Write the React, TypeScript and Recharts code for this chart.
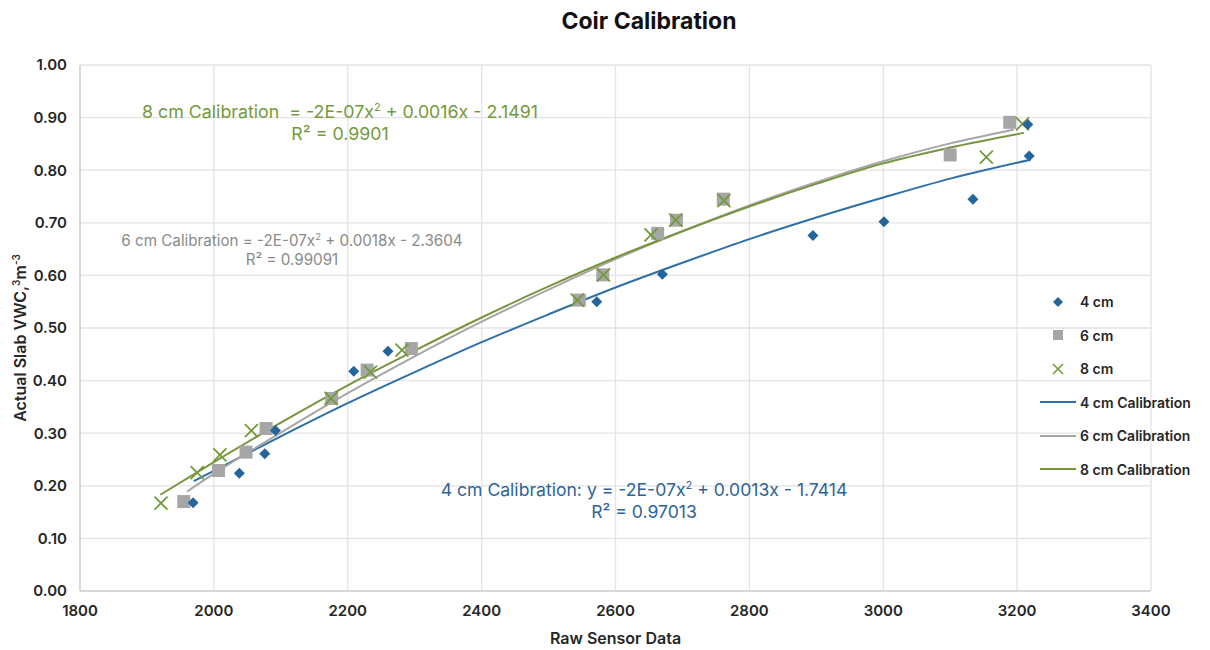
import React from "react";
import {
  ComposedChart, Scatter, Line, XAxis, YAxis, CartesianGrid,
} from "recharts";

// measured points (raw sensor reading vs actual slab VWC)
const raw4 = [1969, 2038, 2076, 2092, 2209, 2260, 2572, 2670, 2895, 3001, 3134, 3216, 3218];
const vwc4 = [0.168, 0.224, 0.261, 0.305, 0.418, 0.456, 0.55, 0.602, 0.676, 0.702, 0.745, 0.887, 0.827];

const raw6 = [1955, 2007, 2048, 2078, 2176, 2229, 2295, 2546, 2581, 2663, 2691, 2761, 3100, 3189];
const vwc6 = [0.17, 0.229, 0.264, 0.309, 0.366, 0.42, 0.461, 0.553, 0.601, 0.68, 0.705, 0.745, 0.829, 0.891];

const raw8 = [1921, 1975, 2009, 2056, 2175, 2234, 2281, 2543, 2582, 2653, 2690, 2762, 3154, 3208];
const vwc8 = [0.167, 0.225, 0.259, 0.305, 0.366, 0.416, 0.458, 0.553, 0.601, 0.677, 0.705, 0.742, 0.825, 0.888];

// calibration curves, read along the trendlines
const fitX4 = [1970, 2100, 2200, 2300, 2400, 2500, 2600, 2700, 2800, 2900, 3000, 3100, 3220];
const fitY4 = [0.209, 0.294, 0.357, 0.416, 0.473, 0.526, 0.577, 0.624, 0.669, 0.71, 0.748, 0.784, 0.82];

const fitX6 = [1960, 2000, 2100, 2200, 2300, 2400, 2500, 2600, 2700, 2800, 2900, 3000, 3100, 3195];
const fitY6 = [0.189, 0.223, 0.301, 0.376, 0.446, 0.512, 0.573, 0.631, 0.684, 0.733, 0.777, 0.817, 0.851, 0.877];

const fitX8 = [1920, 2000, 2100, 2200, 2300, 2400, 2500, 2600, 2700, 2800, 2900, 3000, 3100, 3210];
const fitY8 = [0.183, 0.245, 0.32, 0.391, 0.457, 0.52, 0.579, 0.634, 0.684, 0.731, 0.774, 0.813, 0.843, 0.871];

const xTicks = [1800, 2000, 2200, 2400, 2600, 2800, 3000, 3200, 3400];
const yTicks = [0, 0.1, 0.2, 0.3, 0.4, 0.5, 0.6, 0.7, 0.8, 0.9, 1.0];

const BLUE = "#24659c";
const GRAY = "#a6a6a6";
const GREEN = "#739a3a";
const FONT = "Inter, 'Noto Sans', sans-serif";

const zip = (xs: number[], ys: number[]) => xs.map((x, i) => ({ x, y: ys[i] }));

const pts4 = zip(raw4, vwc4);
const pts6 = zip(raw6, vwc6);
const pts8 = zip(raw8, vwc8);
const fit4 = zip(fitX4, fitY4);
const fit6 = zip(fitX6, fitY6);
const fit8 = zip(fitX8, fitY8);

const Diamond = (p: any) => {
  const { cx, cy } = p;
  const r = 5.5;
  return <path d={`M${cx},${cy - r}L${cx + r},${cy}L${cx},${cy + r}L${cx - r},${cy}Z`} fill={BLUE} />;
};
const Square = (p: any) => {
  const { cx, cy } = p;
  return <rect x={cx - 6.5} y={cy - 6.5} width={13} height={13} fill={GRAY} />;
};
const Cross = (p: any) => {
  const { cx, cy } = p;
  const r = 6.5;
  return (
    <path d={`M${cx - r},${cy - r}L${cx + r},${cy + r}M${cx - r},${cy + r}L${cx + r},${cy - r}`}
      stroke={GREEN} strokeWidth={1.8} fill="none" />
  );
};

const legendItems = [
  { label: "4 cm", kind: "diamond", color: BLUE },
  { label: "6 cm", kind: "square", color: GRAY },
  { label: "8 cm", kind: "cross", color: GREEN },
  { label: "4 cm Calibration", kind: "line", color: "#2e6fa8" },
  { label: "6 cm Calibration", kind: "line", color: GRAY },
  { label: "8 cm Calibration", kind: "line", color: "#77953f" },
];

const LegendBox = () => (
  <div style={{ position: "absolute", left: 1038, top: 285, fontFamily: FONT, fontSize: 14, fontWeight: 600, color: "#262626" }}>
    {legendItems.map((it) => (
      <div key={it.label} style={{ display: "flex", alignItems: "center", height: 33.5 }}>
        <svg width={40} height={14} style={{ marginRight: 2 }}>
          {it.kind === "diamond" && <path d="M20,2L25,7L20,12L15,7Z" fill={it.color} />}
          {it.kind === "square" && <rect x={15} y={2} width={10} height={10} fill={it.color} />}
          {it.kind === "cross" && <path d="M15,2L25,12M15,12L25,2" stroke={it.color} strokeWidth={1.6} />}
          {it.kind === "line" && <line x1={2} y1={7} x2={38} y2={7} stroke={it.color} strokeWidth={2} />}
        </svg>
        <span>{it.label}</span>
      </div>
    ))}
  </div>
);

const note = (color: string, size: number): React.CSSProperties => ({
  position: "absolute", fontFamily: FONT, fontSize: size, color, whiteSpace: "nowrap",
  textAlign: "center", lineHeight: 1.25, transform: "translateX(-50%)",
});

export default function App() {
  return (
    <div style={{ position: "absolute", left: 0, top: 0, width: 1210, height: 650, background: "#fff" }}>
      <ComposedChart width={1210} height={650} margin={{ top: 65, right: 59, bottom: 29, left: 30 }}>
        <CartesianGrid stroke="#e3e3e3" strokeWidth={1.3} />
        <XAxis dataKey="x" type="number" domain={[1800, 3400]} ticks={xTicks} allowDataOverflow
          stroke="#c4c4c4" tickLine={false} tickSize={5} tickMargin={9} height={30}
          tick={{ fill: "#262626", fontSize: 15, fontWeight: 600, fontFamily: FONT }} />
        <YAxis type="number" domain={[0, 1]} ticks={yTicks} width={50} allowDataOverflow
          stroke="#c4c4c4" tickLine={false} tickSize={5} tickMargin={8}
          tickFormatter={(v: number) => v.toFixed(2)}
          tick={{ fill: "#262626", fontSize: 15, fontWeight: 600, fontFamily: FONT }} />
        <Line data={fit4} dataKey="y" type="monotone" stroke="#2e6fa8" strokeWidth={2} dot={false} isAnimationActive={false} />
        <Line data={fit6} dataKey="y" type="monotone" stroke={GRAY} strokeWidth={2} dot={false} isAnimationActive={false} />
        <Line data={fit8} dataKey="y" type="monotone" stroke="#77953f" strokeWidth={2} dot={false} isAnimationActive={false} />
        <Scatter data={pts6} dataKey="y" shape={Square} isAnimationActive={false} />
        <Scatter data={pts8} dataKey="y" shape={Cross} isAnimationActive={false} />
        <Scatter data={pts4} dataKey="y" shape={Diamond} isAnimationActive={false} />
      </ComposedChart>

      <LegendBox />

      <div style={{ position: "absolute", left: 0, width: 1210, top: 7, textAlign: "center", fontFamily: FONT, fontSize: 23, fontWeight: 700, color: "#111", paddingLeft: 88, boxSizing: "border-box" }}>
        Coir Calibration
      </div>
      <div style={{ position: "absolute", left: 0, width: 1231, top: 628, textAlign: "center", fontFamily: FONT, fontSize: 16, fontWeight: 600, color: "#262626" }}>
        Raw Sensor Data
      </div>
      <div style={{ position: "absolute", left: 20, top: 338, transform: "translate(-50%, -50%) rotate(-90deg)", fontFamily: FONT, fontSize: 16, fontWeight: 600, color: "#262626", whiteSpace: "nowrap" }}>
        Actual Slab VWC,<sup style={{ fontSize: 10 }}>3</sup>m<sup style={{ fontSize: 10 }}>-3</sup>
      </div>

      <div style={{ ...note(GREEN, 17.8), left: 340, top: 101 }}>
        8 cm Calibration &nbsp;= -2E-07x<sup style={{ fontSize: 11 }}>2</sup> + 0.0016x - 2.1491<br />R² = 0.9901
      </div>
      <div style={{ ...note("#8a8a8a", 15.2), left: 292, top: 231 }}>
        6 cm Calibration = -2E-07x<sup style={{ fontSize: 9.5 }}>2</sup> + 0.0018x - 2.3604<br />R² = 0.99091
      </div>
      <div style={{ ...note("#2e6497", 17.6), left: 644, top: 479 }}>
        4 cm Calibration: y = -2E-07x<sup style={{ fontSize: 11 }}>2</sup> + 0.0013x - 1.7414<br />R² = 0.97013
      </div>
    </div>
  );
}
